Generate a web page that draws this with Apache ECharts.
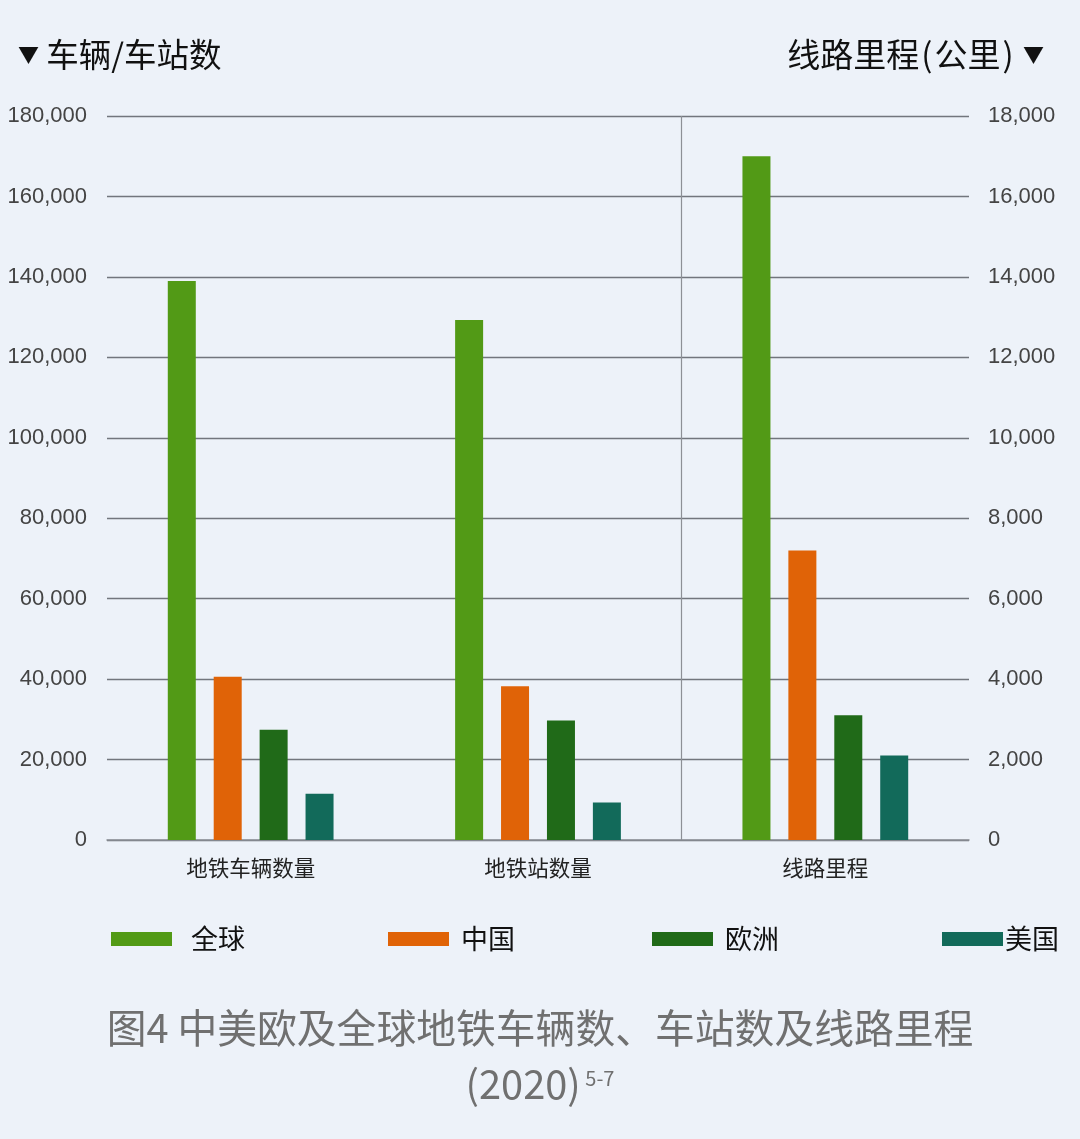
<!DOCTYPE html>
<html>
<head>
<meta charset="utf-8">
<script src="https://cdn.jsdelivr.net/npm/echarts@6/dist/echarts.min.js"></script>
<style>
html,body{margin:0;padding:0;background:#EDF2F9;}
#chart{width:1080px;height:1139px;}
</style>
</head>
<body>
<div id="chart"></div>
<script>
// ---- data ----
const categories = ['地铁车辆数量', '地铁站数量', '线路里程'];
const seriesNames = ['全球', '中国', '欧洲', '美国'];
// left axis (vehicles / stations), first two categories
const globalCount = [139000, 129300];
const chinaCount = [40600, 38200];
const europeCount = [27400, 29700];
const usCount = [11500, 9300];
// right axis (line length, km), third category
const globalKm = 17000;
const chinaKm = 7200;
const europeKm = 3100;
const usKm = 2100;
// axes
const leftTicks = [0, 20000, 40000, 60000, 80000, 100000, 120000, 140000, 160000, 180000];
const rightTicks = [0, 2000, 4000, 6000, 8000, 10000, 12000, 14000, 16000, 18000];
const legendLabels = ['全球', '中国', '欧洲', '美国'];

const colors = ['#529A16', '#E06307', '#206A18', '#126A5A'];
const leftData = [globalCount, chinaCount, europeCount, usCount];
const rightData = [globalKm, chinaKm, europeKm, usKm];

const FONT = '"Noto Sans CJK SC", "Noto Sans", sans-serif';
const fmt = v => v.toLocaleString('en-US');

const series = [];
seriesNames.forEach((name, i) => {
  series.push({
    name: name, type: 'bar', stack: name, yAxisIndex: 0,
    barWidth: 28, barGap: '64%',
    itemStyle: { color: colors[i] },
    data: [leftData[i][0], leftData[i][1], '-']
  });
  series.push({
    name: name, type: 'bar', stack: name, yAxisIndex: 1,
    barWidth: 28, barGap: '64%',
    itemStyle: { color: colors[i] },
    data: ['-', '-', rightData[i]]
  });
});

const legendLefts = [111, 388, 652, 942];
const legendPads = [14, 7, 7, -3];
const legends = legendLabels.map((n, i) => ({
  data: [n], left: legendLefts[i], top: 924, padding: 0,
  icon: 'rect', itemWidth: 61, itemHeight: 14,
  selectedMode: false,
  textStyle: { fontFamily: FONT, fontSize: 27, color: '#111', lineHeight: 30, padding: [0, 0, 0, legendPads[i]] }
}));

const chart = echarts.init(document.getElementById('chart'), null, { renderer: 'canvas' });
chart.setOption({
  backgroundColor: '#EDF2F9',
  animation: false,
  title: [
    {
      text: '{t|▼} 车辆/车站数', left: 13, top: 33,
      textStyle: { fontFamily: FONT, fontSize: 32.5, fontWeight: 'normal', color: '#111',
        rich: { t: { fontFamily: FONT, fontSize: 21, color: '#111' } } }
    },
    {
      text: '线路里程{p|(}公里{p|)} {t|▼}', right: 31, top: 33,
      textStyle: { fontFamily: FONT, fontSize: 33, fontWeight: 'normal', color: '#111',
        rich: {
          t: { fontFamily: FONT, fontSize: 21, color: '#111' },
          p: { fontFamily: FONT, fontSize: 33, color: '#111', padding: [0, 2, 0, 2] }
        } }
    },
    {
      text: '图4 中美欧及全球地铁车辆数、车站数及线路里程\n{y|(2020)}{s| 5-7}',
      left: 'center', top: 995,
      textStyle: { fontFamily: FONT, fontSize: 39.8, fontWeight: 'normal', color: '#707070', lineHeight: 56,
        rich: {
          y: { fontFamily: FONT, fontSize: 39.8, color: '#707070', lineHeight: 56 },
          s: { fontFamily: FONT, fontSize: 20, color: '#707070', padding: [0, 0, 12, 0] }
        } }
    }
  ],
  legend: legends,
  grid: { left: 107, right: 111, top: 116, bottom: 299, containLabel: false },
  xAxis: {
    type: 'category', data: categories, boundaryGap: true,
    axisLine: { show: true, lineStyle: { color: '#8a8e95', width: 1.5 } },
    axisTick: { show: false },
    axisLabel: { interval: 0, margin: 17, fontFamily: FONT, fontSize: 21.5, color: '#222' },
    splitLine: { show: true, lineStyle: { color: ['rgba(0,0,0,0)', 'rgba(0,0,0,0)', '#8d9096', 'rgba(0,0,0,0)'], width: 1.2 } }
  },
  yAxis: [
    {
      type: 'value', min: leftTicks[0], max: leftTicks[leftTicks.length - 1], interval: leftTicks[1] - leftTicks[0],
      axisLine: { show: false }, axisTick: { show: false },
      axisLabel: { margin: 20, fontFamily: 'Liberation Sans, Arial, sans-serif', fontSize: 22, color: '#444', formatter: fmt },
      splitLine: { show: true, lineStyle: { color: '#72767d', width: 1.3 } }
    },
    {
      type: 'value', min: rightTicks[0], max: rightTicks[rightTicks.length - 1], interval: rightTicks[1] - rightTicks[0],
      axisLine: { show: false }, axisTick: { show: false },
      axisLabel: { margin: 19, fontFamily: 'Liberation Sans, Arial, sans-serif', fontSize: 22, color: '#444', formatter: fmt },
      splitLine: { show: false }
    }
  ],
  series: series
});
</script>
</body>
</html>
